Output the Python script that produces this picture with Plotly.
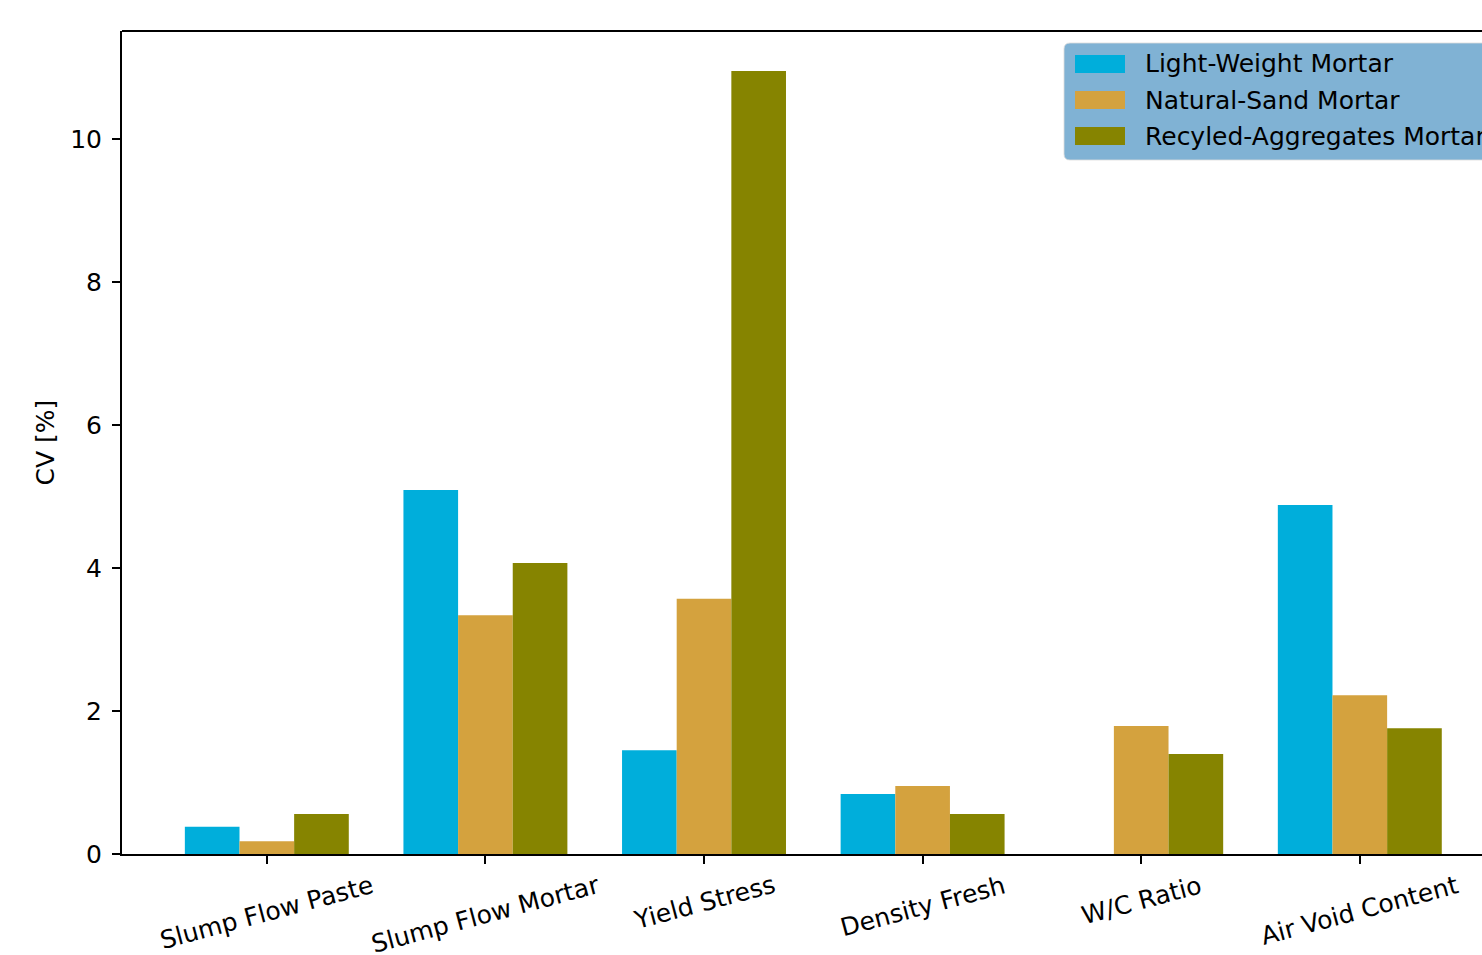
import plotly.graph_objects as go

categories = ["Slump Flow Paste", "Slump Flow Mortar", "Yield Stress",
              "Density Fresh", "W/C Ratio", "Air Void Content"]
series_names = ["Light-Weight Mortar", "Natural-Sand Mortar", "Recyled-Aggregates Mortar"]
light_weight = [0.38, 5.09, 1.45, 0.84, 0.0, 4.88]
natural_sand = [0.18, 3.34, 3.57, 0.95, 1.79, 2.22]
recycled_agg = [0.56, 4.07, 10.95, 0.56, 1.40, 1.76]
colors = ["#00AEDB", "#D4A23E", "#868400"]
y_ticks = [0, 2, 4, 6, 8, 10]

W, H = 1482, 955
X0, X1, Y0, Y1 = 122, 1482, 31, 854


def px(x):
    return (x - X0) / (X1 - X0)


def py(y):
    return (Y1 - y) / (Y1 - Y0)


FONT = "DejaVu Sans"
FS = 25

fig = go.Figure()
for name, vals, col in zip(series_names, [light_weight, natural_sand, recycled_agg], colors):
    fig.add_trace(go.Bar(x=categories, y=vals, name=name, marker_color=col,
                         marker_line_width=0, showlegend=False))

fig.update_layout(
    width=W, height=H,
    margin=dict(l=X0, r=W - X1, t=Y0, b=H - Y1, pad=0),
    paper_bgcolor="white", plot_bgcolor="white",
    barmode="group", bargap=0.25, bargroupgap=0,
    font=dict(family=FONT, size=FS, color="black"),
)
fig.update_xaxes(range=[-0.6625, 5.559], showgrid=False, zeroline=False,
                 showline=True, linecolor="black", linewidth=2,
                 ticks="outside", ticklen=8, tickwidth=2, tickcolor="black",
                 showticklabels=False)
fig.update_yaxes(range=[0, 11.51], showgrid=False, zeroline=False,
                 showline=True, linecolor="black", linewidth=2,
                 ticks="outside", ticklen=8, tickwidth=2, tickcolor="black",
                 tickvals=y_ticks, ticktext=[str(v) for v in y_ticks],
                 ticklabelstandoff=5,
                 title=dict(text="CV [%]", font=dict(size=FS), standoff=8))

# top spine
fig.add_shape(type="line", xref="paper", yref="paper", x0=0, x1=1, y0=1, y1=1,
              line=dict(color="black", width=2), layer="above")

# rotated category labels
for c in categories:
    fig.add_annotation(x=c, xref="x", y=py(869), yref="paper", text=c,
                       textangle=-15, showarrow=False, xanchor="center", yanchor="top",
                       borderpad=0,
                       font=dict(size=FS, family=FONT, color="black"))

# legend box
lx0, lx1, ly0, ly1, r = 1064, 1520, 43, 160, 6
path = (f"M {px(lx0 + r)},{py(ly0)} L {px(lx1 - r)},{py(ly0)} "
        f"Q {px(lx1)},{py(ly0)} {px(lx1)},{py(ly0 + r)} L {px(lx1)},{py(ly1 - r)} "
        f"Q {px(lx1)},{py(ly1)} {px(lx1 - r)},{py(ly1)} L {px(lx0 + r)},{py(ly1)} "
        f"Q {px(lx0)},{py(ly1)} {px(lx0)},{py(ly1 - r)} L {px(lx0)},{py(ly0 + r)} "
        f"Q {px(lx0)},{py(ly0)} {px(lx0 + r)},{py(ly0)} Z")
fig.add_shape(type="path", path=path, xref="paper", yref="paper",
              fillcolor="#80B2D4", line=dict(color="rgba(220,220,220,0.8)", width=1),
              layer="above")
rows = [64, 100, 136]
for name, col, ry in zip(series_names, colors, rows):
    fig.add_shape(type="rect", xref="paper", yref="paper",
                  x0=px(1075), x1=px(1125), y0=py(ry + 9), y1=py(ry - 9),
                  fillcolor=col, line=dict(width=0), layer="above")
    fig.add_annotation(x=px(1143), y=py(ry), xref="paper", yref="paper", text=name,
                       showarrow=False, xanchor="left", yanchor="middle",
                       font=dict(size=FS, family=FONT, color="black"))

fig.write_html("out.html")
